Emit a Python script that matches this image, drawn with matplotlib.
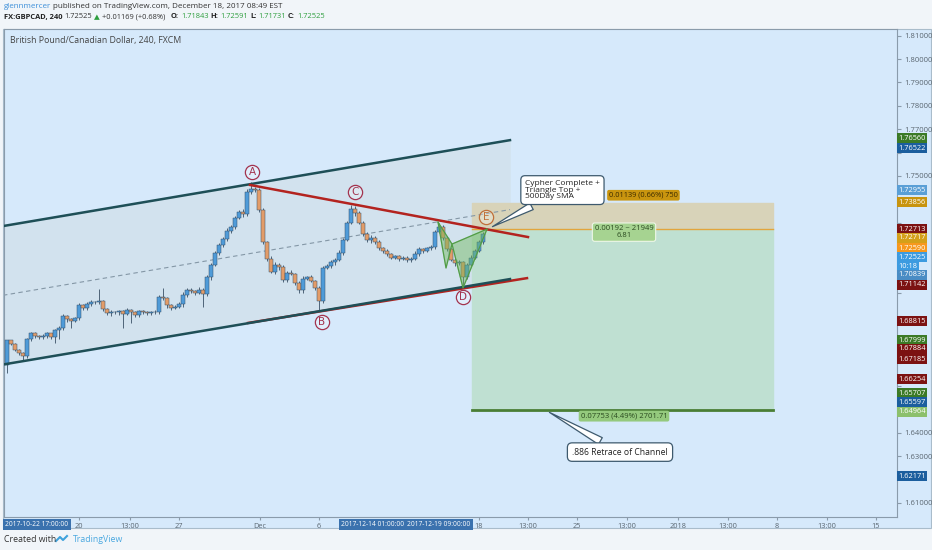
import numpy as np
import matplotlib
matplotlib.use("Agg")
import matplotlib.pyplot as plt
import matplotlib.transforms as mtransforms
from matplotlib.patches import Rectangle
from matplotlib.lines import Line2D

plt.rcParams['font.family'] = ['Open Sans', 'DejaVu Sans']

# ---- candles (4h GBPCAD), oldest first ----
closes = [1.6795, 1.6780, 1.6755, 1.6740, 1.6728, 1.6800, 1.6825, 1.6815, 1.6808, 1.6815,
          1.6825, 1.6810, 1.6840, 1.6850, 1.6900, 1.6885, 1.6880, 1.6890, 1.6945, 1.6935,
          1.6950, 1.6960, 1.6958, 1.6965, 1.6930, 1.6912, 1.6918, 1.6915, 1.6920, 1.6910,
          1.6925, 1.6918, 1.6905, 1.6920, 1.6915, 1.6912, 1.6918, 1.6915, 1.6980, 1.6975,
          1.6945, 1.6935, 1.6940, 1.6950, 1.6990, 1.7010, 1.7005, 1.7000, 1.7012, 1.6995,
          1.7065, 1.7120, 1.7170, 1.7205, 1.7228, 1.7265, 1.7280, 1.7320, 1.7345, 1.7335,
          1.7430, 1.7445, 1.7440, 1.7355, 1.7215, 1.7145, 1.7090, 1.7120, 1.7110, 1.7055,
          1.7085, 1.7080, 1.7040, 1.7010, 1.7060, 1.7065, 1.7050, 1.7020, 1.6965, 1.7105,
          1.7115, 1.7130, 1.7140, 1.7170, 1.7225, 1.7300, 1.7360, 1.7340, 1.7300, 1.7250,
          1.7225, 1.7235, 1.7215, 1.7190, 1.7180, 1.7165, 1.7150, 1.7155, 1.7145, 1.7150,
          1.7140, 1.7145, 1.7165, 1.7185, 1.7180, 1.7190, 1.7195, 1.7260, 1.7280, 1.7235,
          1.7185, 1.7140, 1.7125, 1.7130, 1.7065, 1.7120, 1.7150, 1.7180, 1.7215, 1.72525]
first_open = 1.6690
# wick lengths in pips above body top / below body bottom
wick_up = [4, 3, 4, 3, 5, 6, 8, 5, 4, 6,
           5, 4, 6, 8, 10, 6, 5, 7, 12, 8,
           10, 8, 6, 50, 5, 6, 8, 5, 6, 5,
           8, 6, 5, 7, 5, 6, 5, 8, 10, 40,
           6, 5, 7, 8, 12, 10, 8, 6, 10, 8,
           10, 8, 10, 8, 10, 12, 8, 10, 8, 12,
           15, 30, 8, 10, 6, 8, 10, 12, 8, 10,
           8, 12, 6, 8, 10, 8, 10, 6, 8, 10,
           8, 10, 8, 12, 10, 8, 14, 10, 8, 6,
           10, 12, 8, 10, 6, 8, 5, 8, 6, 5,
           6, 8, 15, 10, 8, 6, 10, 10, 17, 8,
           6, 8, 10, 8, 6, 8, 10, 8, 10, 8]
wick_dn = [34, 5, 6, 8, 18, 6, 8, 10, 8, 6,
           8, 10, 25, 40, 8, 10, 30, 6, 8, 10,
           8, 6, 8, 6, 10, 8, 12, 8, 10, 60,
           8, 50, 10, 8, 6, 8, 10, 8, 6, 8,
           10, 8, 6, 8, 10, 8, 6, 12, 8, 58,
           8, 10, 6, 10, 8, 6, 10, 8, 6, 10,
           8, 6, 10, 8, 6, 10, 8, 10, 12, 8,
           10, 6, 8, 12, 10, 8, 6, 10, 40, 8,
           6, 8, 10, 6, 8, 6, 8, 10, 6, 8,
           10, 12, 8, 6, 10, 8, 6, 8, 10, 6,
           8, 10, 6, 8, 10, 6, 8, 8, 6, 10,
           8, 6, 10, 8, 41, 8, 6, 8, 6, 5]

# ---- drawings (candle index, price) ----
channel_upper = [(-1.0, 1.7285), (125.75, 1.7653)]
channel_lower = [(-1.0, 1.6692), (125.75, 1.7058)]
triangle_top = [(60.75, 1.7461), (130.25, 1.7238)]
triangle_bottom = [(60.25, 1.6870), (130.0, 1.7062)]
pivot_names = ['A', 'B', 'C', 'D', 'E']
pivot_x = [61.25, 78.75, 87.0, 114.0, 119.75]
pivot_y = [1.7516, 1.6874, 1.7431, 1.6981, 1.7324]
cypher_x = [107.75, 109.75, 111.25, 114.0, 120.0]
cypher_y = [1.7302, 1.7105, 1.7208, 1.7020, 1.7272]

pos_x = [116.25, 191.5]
pos_stop = 1.73856
pos_entry = 1.72717
pos_target = 1.64964

# ---- axis labels ----
price_ticks = [1.61, 1.62, 1.63, 1.64, 1.65, 1.66, 1.67, 1.68, 1.69, 1.70, 1.71,
               1.72, 1.73, 1.74, 1.75, 1.76, 1.77, 1.78, 1.79, 1.80, 1.81]
time_tick_x = [18, 30.75, 43, 63.25, 78, 118, 130.25, 142.5, 155, 167.75, 180.25, 192.5, 205, 217.25]
time_tick_labels = ['20', '13:00', '27', 'Dec', '6', '18', '13:00', '25', '13:00', '2018',
                    '13:00', '8', '13:00', '15']
time_marks = ['2017-10-22 17:00:00', '2017-12-14 01:00:00', '2017-12-19 09:00:00']
time_marks_x = [7.5, 91.5, 108.0]

scale_texts = ['1.76560', '1.76522', '1.72955', '1.73856', '1.72713', '1.72717', '1.72590',
               '1.72525', '10:18', '1.70839', '1.71142', '1.68815', '1.67999', '1.67884',
               '1.67185', '1.66254', '1.65707', '1.65597', '1.64964', '1.62171']
scale_at = [1.7662, 1.7619, 1.7439, 1.7388, 1.7272, 1.7234, 1.7191, 1.7152, 1.7110, 1.7076,
            1.7033, 1.6878, 1.6797, 1.6759, 1.6715, 1.6629, 1.6569, 1.6531, 1.6489, 1.6214]
scale_colors = ['#3b7a26', '#1b5e9e', '#5a9fd6', '#c8940e', '#7c1212', '#d4a01a', '#f7981d',
                '#3d9be0', '#3d9be0', '#4a8cc4', '#7c1212', '#7c1212', '#3b7a26', '#7c1212',
                '#7c1212', '#7c1212', '#3b7a26', '#1b5e9e', '#8cc06c', '#1b5e9e']

W, H = 932, 550
fig = plt.figure(figsize=(W / 100, H / 100), dpi=100)
fig.patch.set_facecolor('#f1f5f9')

def fx(px):
    return px / W

def fy(py):
    return 1 - py / H

# panel background (chart + scales)
fig.add_artist(Rectangle((fx(3), fy(528)), fx(928), (528 - 29) / H, transform=fig.transFigure,
                         facecolor='#d6e9fb', edgecolor='#a9bccb', lw=0.8, zorder=0))

ax = fig.add_axes([fx(4), fy(517), fx(893), (517 - 29) / H])
ax.set_facecolor('#d6e9fb')
ax.set_xlim(-0.75, 222.5)
ax.set_ylim(1.6039, 1.8129)
for s in ax.spines.values():
    s.set_color('#8a9bab')
    s.set_linewidth(0.8)

# channel
cu = np.array(channel_upper)
cl = np.array(channel_lower)
ax.fill(np.r_[cu[:, 0], cl[::-1, 0]], np.r_[cu[:, 1], cl[::-1, 1]], color='#d2e2ee', zorder=1)
ax.plot(cu[:, 0], cu[:, 1], color='#1e4f57', lw=1.8, zorder=4)
ax.plot(cl[:, 0], cl[:, 1], color='#1e4f57', lw=1.8, zorder=4)
ax.plot(cu[:, 0], (cu[:, 1] + cl[:, 1]) / 2, color='#8497a6', lw=0.8, ls=(0, (4, 3)), zorder=2)

# position tool
ax.fill_between(pos_x, pos_entry, pos_stop, color='#d8d3b9', zorder=1.5)
ax.fill_between(pos_x, pos_target, pos_entry, color='#bfe0d2', zorder=1.5)
ax.plot(pos_x, [pos_entry, pos_entry], color='#e3a53c', lw=1, zorder=2)
ax.plot(pos_x, [pos_target, pos_target], color='#4a7e35', lw=2, zorder=2)

# candles
opens = [first_open] + closes[:-1]
idx = np.arange(len(closes))
o = np.array(opens)
c = np.array(closes)
top = np.maximum(o, c)
bot = np.minimum(o, c)
hi = top + np.array(wick_up) * 0.0001
lo = bot - np.array(wick_dn) * 0.0001
up = c >= o
ax.vlines(idx, lo, hi, color='#4e6478', lw=0.7, zorder=3)
ax.bar(idx, np.maximum(top - bot, 0.00025), bottom=bot, width=0.78,
       color=np.where(up, '#4f9bd8', '#e39c68'), edgecolor='#35506a', linewidth=0.35, zorder=3.5)

# triangle
tt = np.array(triangle_top)
tb = np.array(triangle_bottom)
ax.plot(tt[:, 0], tt[:, 1], color='#b3231f', lw=1.8, zorder=5)
ax.plot(tb[:, 0], tb[:, 1], color='#b3231f', lw=1.8, zorder=3.9)

# cypher pattern
ax.fill(cypher_x[:3], cypher_y[:3], color='#6fb85a', alpha=0.45, zorder=5)
ax.fill(cypher_x[2:], cypher_y[2:], color='#6fb85a', alpha=0.45, zorder=5)
ax.plot(cypher_x, cypher_y, color='#4f9a45', lw=0.8, zorder=5)
ax.plot([cypher_x[0], cypher_x[2], cypher_x[4]], [cypher_y[0], cypher_y[2], cypher_y[4]],
        color='#4f9a45', lw=0.8, zorder=5)

# pivot circles
for n, x, y in zip(pivot_names, pivot_x, pivot_y):
    ec = '#c0703a' if n == 'E' else '#a3334e'
    ax.scatter([x], [y], s=105, marker='o', facecolor=(1, 1, 1, 0.25), edgecolor=ec,
               linewidth=0.9, zorder=6)
    ax.text(x, y, n, ha='center', va='center', fontsize=7.5, color=ec, zorder=7,
            family=['DejaVu Sans'])

# position labels
ax.text(150.5, 1.7417, '0.01139 (0.66%) 750', ha='left', va='center', fontsize=5.3,
        color='#3a2a00', zorder=6,
        bbox=dict(boxstyle='round,pad=0.25', fc='#c9950f', ec='none'))
ax.text(154.25, 1.7259, '0.00192 ~ 21949\n6.81', ha='center', va='center', fontsize=5.5,
        color='#2a4a20', linespacing=0.95, zorder=6,
        bbox=dict(boxstyle='round,pad=0.3', fc='#a6d391', ec='#eef7e8', lw=0.8))
ax.text(154.25, 1.6471, '0.07753 (4.49%) 2701.71', ha='center', va='center', fontsize=5.5,
        color='#2a4a20', zorder=6,
        bbox=dict(boxstyle='round,pad=0.25', fc='#94c97d', ec='none'))

# callouts
ax.annotate('Cypher Complete +\nTriangle Top +\n500Day SMA', xy=(120.75, 1.7277),
            xytext=(129.5, 1.7439), ha='left', va='center', fontsize=6.0, color='#222222',
            linespacing=0.95, zorder=8,
            bbox=dict(boxstyle='round,pad=0.5', fc='white', ec='#3e5a6e', lw=0.9),
            arrowprops=dict(arrowstyle='wedge,tail_width=0.9,shrink_factor=0.5', fc='white',
                            ec='#3e5a6e', lw=0.9))
ax.annotate('.886 Retrace of Channel', xy=(135.0, 1.6493), xytext=(153.25, 1.6317),
            ha='center', va='center', fontsize=6.2, color='#222222', zorder=8,
            bbox=dict(boxstyle='round,pad=0.55', fc='white', ec='#3e5a6e', lw=0.9),
            arrowprops=dict(arrowstyle='wedge,tail_width=0.9,shrink_factor=0.5', fc='white',
                            ec='#3e5a6e', lw=0.9))

# price scale: plain tick labels hidden where a coloured marker sits on top
ax.yaxis.tick_right()
ax.set_yticks(price_ticks)
ax.set_yticklabels(['' if min(abs(p - s) for s in scale_at) < 0.0034 else '%.5f' % p
                    for p in price_ticks])
ax.tick_params(axis='y', labelsize=5.5, labelcolor='#5a6670', color='#8a9bab', length=3, pad=2)
blend = mtransforms.blended_transform_factory(ax.transAxes, ax.transData)
for t, y, col in zip(scale_texts, scale_at, scale_colors):
    ax.text(1.0015, y, t, transform=blend, ha='left', va='center', fontsize=5.3, color='white',
            clip_on=False, zorder=9,
            bbox=dict(boxstyle='square,pad=0.2', fc=col, ec='none'))

# time scale
ax.set_xticks(time_tick_x)
ax.set_xticklabels(time_tick_labels)
ax.tick_params(axis='x', labelsize=5.3, labelcolor='#5a6670', color='#8a9bab', length=2.5, pad=1.5)
blendx = mtransforms.blended_transform_factory(ax.transData, ax.transAxes)
for t, x in zip(time_marks, time_marks_x):
    ax.text(x, -0.0145, t, transform=blendx, ha='center', va='center', fontsize=4.8,
            color='white', clip_on=False, zorder=9,
            bbox=dict(boxstyle='square,pad=0.3', fc='#3b72ae', ec='none'))

# headers
ax.text(0.007, 0.985, 'British Pound/Canadian Dollar, 240, FXCM', transform=ax.transAxes,
        ha='left', va='top', fontsize=6.3, color='#444444')

renderer = fig.canvas.get_renderer()

def header_line(y, size, pieces):
    end = 0
    for x, txt, col, kw in pieces:
        t = fig.text(fx(max(x, end + 2)), fy(y), txt, color=col, va='center', fontsize=size, **kw)
        bb = t.get_window_extent(renderer)
        end = bb.x1

header_line(7, 5.8, [(4, 'glennmercer', '#3d8fd9', {}),
                     (52, 'published on TradingView.com, December 18, 2017 08:49 EST', '#333333', {})])
header_line(17, 5.4, [(4, 'FX:GBPCAD, 240', '#222222', {'weight': 'bold'}),
                      (64, '1.72525', '#333333', {}),
                      (93, '\u25b2', '#2e9e3e', {'family': ['DejaVu Sans']}),
                      (100, '+0.01169 (+0.68%)', '#333333', {}),
                      (171, 'O:', '#222222', {'weight': 'bold'}),
                      (180, '1.71843', '#2e9e3e', {}),
                      (210, 'H:', '#222222', {'weight': 'bold'}),
                      (219, '1.72591', '#2e9e3e', {}),
                      (249, 'L:', '#222222', {'weight': 'bold'}),
                      (256, '1.71731', '#2e9e3e', {}),
                      (286, 'C:', '#222222', {'weight': 'bold'}),
                      (295, '1.72525', '#2e9e3e', {})])

fig.text(fx(4), fy(540), 'Created with', fontsize=6.3, color='#333333', va='center')
fig.add_artist(Line2D([fx(56), fx(60), fx(63), fx(67)], [fy(541), fy(537), fy(540), fy(536)],
                      transform=fig.transFigure, color='#3fa2dc', lw=1.5))
fig.text(fx(73), fy(540), 'TradingView', fontsize=6.3, color='#4aa8e0', va='center')

fig.savefig('out.png', dpi=100, facecolor=fig.get_facecolor())
